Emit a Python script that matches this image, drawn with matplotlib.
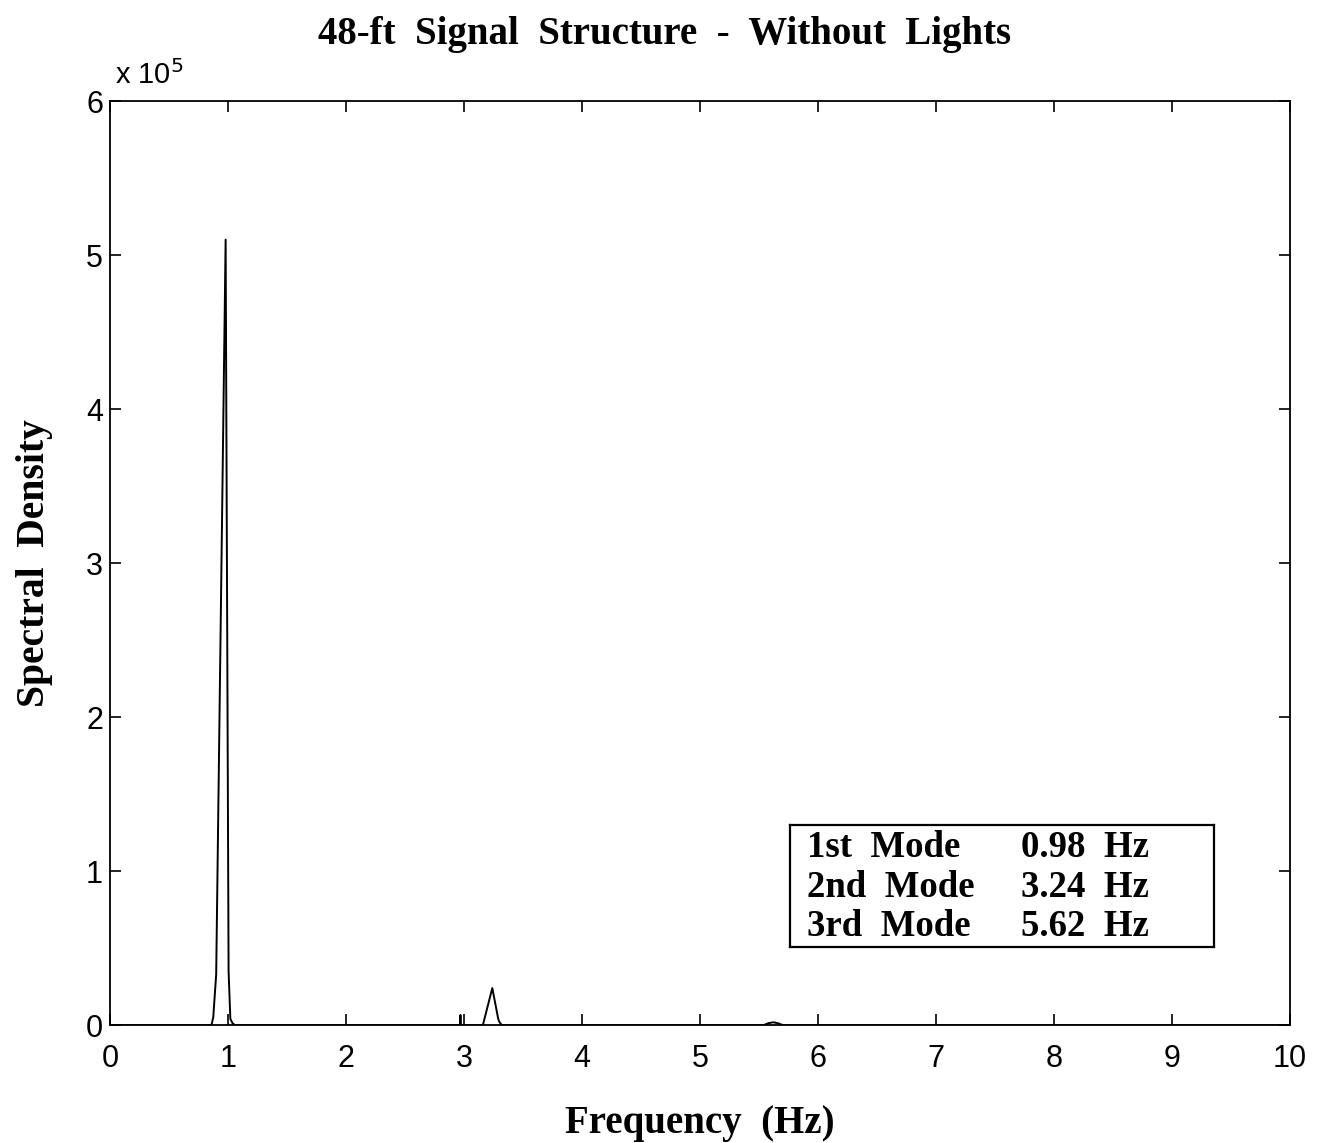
import matplotlib
matplotlib.use("Agg")
import matplotlib.pyplot as plt
import numpy as np

# Spectral density of the 48-ft signal structure (values in units of 1e5)
freq_hz = [0.0, 0.86, 0.875, 0.90, 0.98, 1.005, 1.02, 1.04, 1.06,
           2.965, 2.97, 2.975, 3.16, 3.24, 3.29, 3.30, 3.32,
           5.54, 5.58, 5.62, 5.66, 5.70, 10.0]
psd_e5 = [0.0, 0.0, 0.05, 0.33, 5.1, 0.35, 0.04, 0.01, 0.0,
          0.0, 0.065, 0.0, 0.0, 0.24, 0.04, 0.02, 0.0,
          0.0, 0.012, 0.018, 0.012, 0.0, 0.0]

mode_names = ["1st  Mode", "2nd  Mode", "3rd  Mode"]
mode_freqs = ["0.98  Hz", "3.24  Hz", "5.62  Hz"]

x_ticks = list(range(0, 11))
y_ticks = list(range(0, 7))

serif = ["Liberation Serif", "DejaVu Serif"]
sans = ["Liberation Sans", "DejaVu Sans"]

fig = plt.figure(figsize=(13.22, 11.43), dpi=100)
ax = fig.add_axes([0.0832, 0.1032, 0.8926, 0.8084])

ax.plot(freq_hz, np.array(psd_e5) * 1e5, color="black", lw=1.4)

ax.set_xlim(0, 10)
ax.set_ylim(0, 6e5)
ax.set_xticks(x_ticks)
ax.set_yticks([v * 1e5 for v in y_ticks])
ax.set_xticklabels([str(v) for v in x_ticks], fontfamily=sans, fontsize=22)
ax.set_yticklabels([str(v) for v in y_ticks], fontfamily=sans, fontsize=22)
ax.tick_params(direction="in", length=8, width=1.2, top=True, right=True)
ax.tick_params(axis="x", pad=14)
ax.tick_params(axis="y", pad=5)
for sp in ax.spines.values():
    sp.set_linewidth(1.3)

# scale factor above the y axis
ax.text(0.004, 1.012, r"x 10$^5$", transform=ax.transAxes, fontfamily=sans,
        fontsize=21, ha="left", va="bottom")

fig.text(0.503, 0.970, "48-ft  Signal  Structure  -  Without  Lights",
         fontfamily=serif, fontweight="bold", fontsize=28, ha="center", va="center")
ax.set_xlabel("Frequency  (Hz)", fontfamily=serif, fontweight="bold", fontsize=28,
              labelpad=22)
ax.set_ylabel("Spectral  Density", fontfamily=serif, fontweight="bold", fontsize=28.5,
              labelpad=24)

# mode summary box
box = ax.inset_axes([0.576, 0.084, 0.36, 0.133])
box.set_xticks([])
box.set_yticks([])
for sp in box.spines.values():
    sp.set_linewidth(1.6)
for i, (n, f) in enumerate(zip(mode_names, mode_freqs)):
    yy = 0.81 - i * 0.32
    box.text(0.04, yy, n, fontfamily=serif, fontweight="bold", fontsize=26.5,
             va="center", ha="left", transform=box.transAxes)
    box.text(0.545, yy, f, fontfamily=serif, fontweight="bold", fontsize=26.5,
             va="center", ha="left", transform=box.transAxes)

fig.savefig("out.png", dpi=100)
